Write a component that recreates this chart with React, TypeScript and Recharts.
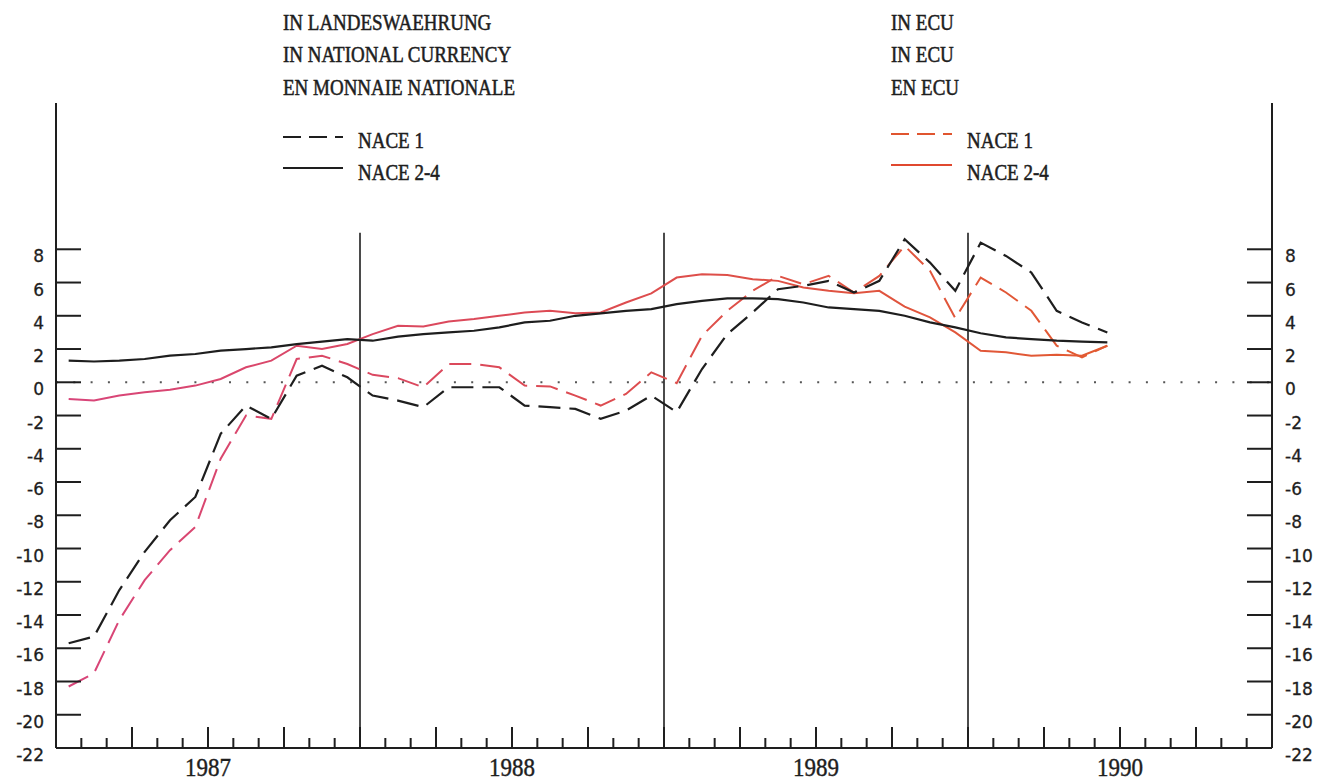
import React from 'react';
import { LineChart, Line, XAxis, YAxis, ReferenceLine } from 'recharts';

// Monthly observations, January 1987 to June 1990
const years = [1987, 1988, 1989, 1990];
const monthsPerYear = [12, 12, 12, 6];
const monthLabels: string[] = [];
years.forEach((y, yi) => {
  for (let m = 1; m <= monthsPerYear[yi]; m++) monthLabels.push(`${y}-${String(m).padStart(2, '0')}`);
});

// In national currency
const nace1National = [
  -15.7, -15.3, -12.5, -10.2, -8.3, -6.9, -3.1, -1.4, -2.2, 0.4, 1.0, 0.3,
  -0.8, -1.1, -1.5, -0.3, -0.3, -0.3, -1.4, -1.5, -1.6, -2.2, -1.7, -0.8,
  -1.8, 0.8, 2.9, 4.2, 5.6, 5.8, 6.1, 5.4, 6.1, 8.6, 7.2, 5.5,
  8.4, 7.6, 6.6, 4.3, 3.6, 3.0,
];
const nace24National = [
  1.3, 1.25, 1.3, 1.4, 1.6, 1.7, 1.9, 2.0, 2.1, 2.3, 2.45, 2.6,
  2.5, 2.75, 2.9, 3.0, 3.1, 3.3, 3.6, 3.7, 4.0, 4.15, 4.3, 4.4,
  4.7, 4.9, 5.05, 5.05, 5.0, 4.8, 4.5, 4.4, 4.3, 4.0, 3.6, 3.3,
  2.95, 2.7, 2.6, 2.5, 2.45, 2.4,
];
// In ECU
const nace1Ecu = [
  -18.3, -17.5, -14.3, -11.9, -10.1, -8.7, -4.6, -2.0, -2.2, 1.4, 1.6, 1.1,
  0.45, 0.25, -0.3, 1.1, 1.1, 0.9, -0.2, -0.25, -0.8, -1.4, -0.7, 0.6,
  -0.05, 2.8, 4.3, 5.5, 6.4, 5.9, 6.4, 5.4, 6.4, 8.2, 6.7, 3.85,
  6.3, 5.4, 4.3, 2.2, 1.5, 2.2,
];
const nace24Ecu = [
  -1.0, -1.1, -0.8, -0.6, -0.45, -0.2, 0.2, 0.9, 1.3, 2.2, 2.0, 2.3,
  2.9, 3.4, 3.35, 3.65, 3.8, 4.0, 4.2, 4.3, 4.15, 4.2, 4.8, 5.35,
  6.3, 6.5, 6.45, 6.2, 6.1, 5.7, 5.5, 5.35, 5.5, 4.55, 3.9, 3.0,
  1.9, 1.8, 1.6, 1.65, 1.6, 2.2,
];

const yTicks = [-22, -20, -18, -16, -14, -12, -10, -8, -6, -4, -2, 0, 2, 4, 6, 8];
const yearBoundaries = [12, 24, 36];
const yearLabelPos = [6, 18, 30, 42];
const monthTicks = Array.from({ length: 47 }, (_, i) => i + 1);

const titleLeft = ['IN LANDESWAEHRUNG', 'IN NATIONAL CURRENCY', 'EN MONNAIE NATIONALE'];
const titleRight = ['IN ECU', 'IN ECU', 'EN ECU'];
const legendNames = ['NACE 1', 'NACE 2-4'];

const data = monthLabels.map((label, i) => ({
  label,
  t: i + 0.5,
  a: nace1National[i],
  b: nace24National[i],
  c: nace1Ecu[i],
  d: nace24Ecu[i],
}));

const INK = '#1e1e1e';
const serif = '"Liberation Serif", "Times New Roman", serif';
const sans = '"DejaVu Sans", sans-serif';

const LeftTick = (props: any) => {
  const { x, y, payload } = props;
  return (
    <g>
      <line x1={x} y1={y} x2={x + 25} y2={y} stroke={INK} strokeWidth={2} />
      <text x={x - 12} y={y + 13} textAnchor="end" fontFamily={sans} fontSize={17} fill={INK} stroke={INK} strokeWidth={0.3}>
        {payload.value}
      </text>
    </g>
  );
};

const RightTick = (props: any) => {
  const { x, y, payload } = props;
  return (
    <g>
      <line x1={x - 25} y1={y} x2={x} y2={y} stroke={INK} strokeWidth={2} />
      <text x={x + 13} y={y + 13} textAnchor="start" fontFamily={sans} fontSize={17} fill={INK} stroke={INK} strokeWidth={0.3}>
        {payload.value}
      </text>
    </g>
  );
};

const BottomTick = (props: any) => {
  const { x, y, payload } = props;
  const v = payload.value as number;
  const len = v % 3 === 0 ? 21 : 10;
  const yi = yearLabelPos.indexOf(v);
  return (
    <g>
      <line x1={x} y1={y} x2={x} y2={y - len} stroke={INK} strokeWidth={2} />
      {yi >= 0 && (
        <text
          transform={`translate(${x},${y + 28}) scale(1,1.08)`}
          textAnchor="middle"
          fontFamily={serif}
          fontSize={23}
          fill={INK}
          stroke={INK}
          strokeWidth={0.4}
        >
          {years[yi]}
        </text>
      )}
    </g>
  );
};

const Title = ({ x, y, text }: { x: number; y: number; text: string }) => (
  <text
    transform={`translate(${x},${y}) scale(1,1.18)`}
    fontFamily={serif}
    fontSize={19}
    fill={INK}
    stroke={INK}
    strokeWidth={0.45}
  >
    {text}
  </text>
);

export default function App() {
  return (
    <div style={{ position: 'absolute', left: 0, top: 0, width: 1333, height: 783, background: '#ffffff', overflow: 'hidden' }}>
      <LineChart width={1333} height={783} data={data} margin={{ top: 103, right: 0, bottom: 0, left: 0 }}>
        <defs>
          <linearGradient id="ecuGrad" x1="0" y1="0" x2="1" y2="0">
            <stop offset="0%" stopColor="#d8457a" />
            <stop offset="45%" stopColor="#dc4a55" />
            <stop offset="100%" stopColor="#e25a30" />
          </linearGradient>
        </defs>
        <XAxis
          dataKey="t"
          type="number"
          domain={[0, 48]}
          ticks={monthTicks}
          interval={0}
          height={35}
          tickSize={0}
          tickMargin={0}
          tick={<BottomTick />}
          axisLine={{ stroke: INK, strokeWidth: 2 }}
          tickLine={false}
        />
        <YAxis
          yAxisId="left"
          orientation="left"
          type="number"
          domain={[-22, 16.8]}
          ticks={yTicks}
          interval={0}
          width={56}
          tickSize={0}
          tickMargin={0}
          tick={<LeftTick />}
          axisLine={{ stroke: INK, strokeWidth: 2 }}
          tickLine={false}
          allowDataOverflow
        />
        <YAxis
          yAxisId="right"
          orientation="right"
          type="number"
          domain={[-22, 16.8]}
          ticks={yTicks}
          interval={0}
          width={61}
          tickSize={0}
          tickMargin={0}
          tick={<RightTick />}
          axisLine={{ stroke: INK, strokeWidth: 2 }}
          tickLine={false}
          allowDataOverflow
        />
        <ReferenceLine yAxisId="left" y={0} stroke="#555" strokeWidth={2} strokeDasharray="2 15.3" />
        {yearBoundaries.map((b) => (
          <ReferenceLine
            key={b}
            yAxisId="left"
            segment={[{ x: b, y: -22 }, { x: b, y: 9 }]}
            stroke={INK}
            strokeWidth={1.6}
          />
        ))}
        <Line yAxisId="left" type="linear" dataKey="d" stroke="url(#ecuGrad)" strokeWidth={2} dot={false} isAnimationActive={false} />
        <Line yAxisId="left" type="linear" dataKey="c" stroke="url(#ecuGrad)" strokeWidth={2} strokeDasharray="22 9" dot={false} isAnimationActive={false} />
        <Line yAxisId="left" type="linear" dataKey="b" stroke={INK} strokeWidth={2.2} dot={false} isAnimationActive={false} />
        <Line yAxisId="left" type="linear" dataKey="a" stroke={INK} strokeWidth={2.2} strokeDasharray="22 9" dot={false} isAnimationActive={false} />
      </LineChart>
      <svg width={1333} height={200} style={{ position: 'absolute', left: 0, top: 0, pointerEvents: 'none' }}>
        {titleLeft.map((t, i) => (
          <Title key={'l' + i} x={283} y={30 + i * 32.3} text={t} />
        ))}
        {titleRight.map((t, i) => (
          <Title key={'r' + i} x={891} y={30 + i * 32.3} text={t} />
        ))}
        <line x1={283} y1={137} x2={343} y2={137} stroke={INK} strokeWidth={2} strokeDasharray="18 8" />
        <line x1={283} y1={168} x2={343} y2={168} stroke={INK} strokeWidth={2} />
        <line x1={891} y1={134} x2={952} y2={134} stroke="#e0552f" strokeWidth={2} strokeDasharray="18 8" />
        <line x1={891} y1={165} x2={952} y2={165} stroke="#e0482f" strokeWidth={2} />
        <Title x={358} y={148} text={legendNames[0]} />
        <Title x={358} y={180} text={legendNames[1]} />
        <Title x={967} y={148} text={legendNames[0]} />
        <Title x={967} y={180} text={legendNames[1]} />
      </svg>
    </div>
  );
}
